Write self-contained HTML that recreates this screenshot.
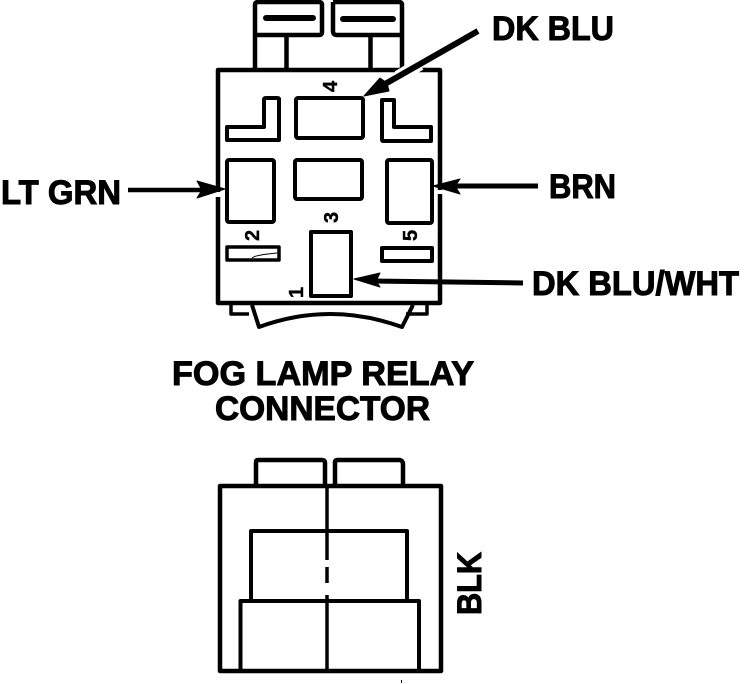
<!DOCTYPE html>
<html><head><meta charset="utf-8"><style>
html,body{margin:0;padding:0;background:#fff}
svg{display:block}
text{font-family:"Liberation Sans",sans-serif;font-weight:bold;fill:#000;stroke:#000;stroke-width:1}
</style></head><body>
<svg width="752" height="684" viewBox="0 0 752 684" xmlns="http://www.w3.org/2000/svg">
<g fill="none" stroke="#000" stroke-width="4" stroke-linejoin="round">
<!-- top tabs -->
<path d="M255 69V5Q255 2 258 2H319Q322 2 322 5V32Q322 35 319 35H255" stroke-width="4.5"/>
<path d="M333 2H399Q402 2 402 5V69M333 2V31Q333 35 337 35H402" stroke-width="4.5"/>
<path d="M286.500 35V68M370.500 35V68" stroke-width="4.500"/>
<path d="M266 18H313M343 19H393" stroke-width="6" stroke-linecap="round"/>
<!-- body -->
<path d="M218 70H440V303H218Z" stroke-width="4.5"/>
<!-- top row -->
<path d="M227 127V140H279V99Q279 98 277 98H266Q264 98 264 100V127Z"/>
<rect x="296" y="98" width="67" height="40" rx="2"/>
<path d="M382 100H394V127H431V141H383Q382 141 382 139Z"/>
<!-- middle row -->
<rect x="227" y="160" width="47" height="62" rx="2"/>
<rect x="295" y="160" width="67" height="39" rx="2"/>
<rect x="387" y="160" width="45" height="63" rx="2"/>
<!-- slots -->
<rect x="227" y="247" width="52" height="13" stroke-width="3.5"/>
<rect x="382" y="248" width="50" height="13"/>
<path d="M252 258Q255 255 277 253" stroke-width="1"/>
<rect x="311" y="232" width="40" height="64"/>
<!-- bottom -->
<path d="M231 304V314H249M427 304V314H406" stroke-width="3.5"/>
<path d="M252 305L259 327Q330 301 402 327L413 305" stroke-width="4"/>
</g>
<!-- wall gaps around arrows -->
<g fill="#fff">
<path d="M420 64L398 77" stroke="#fff" stroke-width="13"/>
<rect x="215" y="192" width="8" height="5"/>
<rect x="437" y="190" width="7" height="4"/>
</g>
<!-- arrows -->
<g stroke="#000" fill="#000" stroke-linejoin="round">
<path d="M478 31L378 88" stroke-width="6" fill="none"/>
<path d="M364 96L380 78L387 83L389 91Z" stroke-width="1"/>
<path d="M128 190H205" stroke-width="4.5" fill="none"/>
<path d="M225 189L197 181L202 190L197 198Z" stroke-width="1"/>
<path d="M538 186H455" stroke-width="5" fill="none"/>
<path d="M433 186L460 179L455 186L460 194Z" stroke-width="1"/>
<path d="M523 283L375 281" stroke-width="5" fill="none"/>
<path d="M354 279L380 273L376 281L380 287Z" stroke-width="1"/>
</g>
<!-- pin numbers -->
<g font-size="20" style="stroke-width:.4">
<text style="stroke-width:.4" transform="translate(337,92) rotate(-90)">4</text>
<text style="stroke-width:.4" transform="translate(259,241) rotate(-90)">2</text>
<text style="stroke-width:.4" transform="translate(338,223) rotate(-90)">3</text>
<text style="stroke-width:.4" transform="translate(417,241) rotate(-90)">5</text>
<text style="stroke-width:.4" transform="translate(303,298) rotate(-90)">1</text>
</g>
<!-- labels -->
<g font-size="34">
<text x="492" y="40" textLength="122" lengthAdjust="spacingAndGlyphs">DK BLU</text>
<text x="1" y="204" textLength="120" lengthAdjust="spacingAndGlyphs">LT GRN</text>
<text x="549" y="198" textLength="67" lengthAdjust="spacingAndGlyphs">BRN</text>
<text x="532" y="295" textLength="207" lengthAdjust="spacingAndGlyphs">DK BLU/WHT</text>
<text x="172" y="385" textLength="302" lengthAdjust="spacingAndGlyphs">FOG LAMP RELAY</text>
<text x="215" y="420" textLength="215" lengthAdjust="spacingAndGlyphs">CONNECTOR</text>
<text transform="translate(481,615) rotate(-90)" textLength="63" lengthAdjust="spacingAndGlyphs">BLK</text>
</g>
<!-- lower connector -->
<g fill="none" stroke="#000" stroke-linejoin="round">
<path d="M256 486V462Q256 460 258 460H322Q325 460 325 463V486" stroke-width="4.5"/>
<path d="M335 486V462Q335 460 338 460H400Q403 461 403 464V486" stroke-width="4.5"/>
<path d="M220 486H441V671H220Z" stroke-width="4.5"/>
<path d="M251 599V531H407V600" stroke-width="4"/>
<path d="M240.500 669V601H419V669" stroke-width="4"/>
<path d="M327 488V560M327 567V583M327 595V670" stroke-width="3.5"/>
</g>
<rect x="401" y="680" width="1" height="3" fill="#000"/>
</svg>
</body></html>
